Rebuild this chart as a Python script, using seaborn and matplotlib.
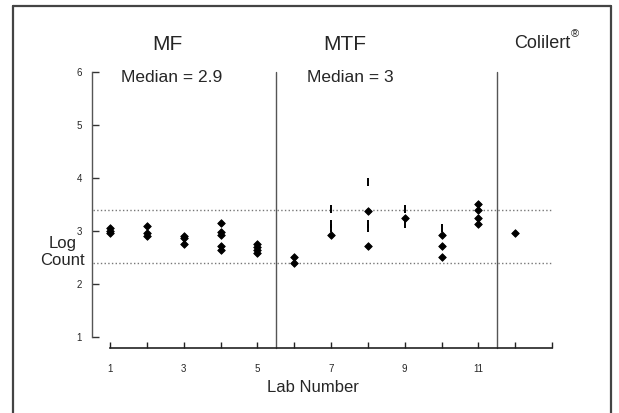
import seaborn as sns
import pandas as pd
import numpy as np
import matplotlib.pyplot as plt
from matplotlib.lines import Line2D

# -----------------------------
# DATA
# -----------------------------
labs = [1, 2, 3, 4, 5, 6, 7, 8, 9, 10, 11, 12]
lab_counts = [
    [3.05, 3.00, 2.97],
    [3.09, 2.97, 2.91],
    [2.91, 2.86, 2.75],
    [3.16, 2.99, 2.92, 2.72, 2.64],
    [2.75, 2.70, 2.64, 2.59],
    [2.50, 2.40],
    [2.92],
    [3.38, 2.71],
    [3.25],
    [2.92, 2.71, 2.50],
    [3.50, 3.40, 3.24, 3.13],
    [2.96],
]
# short vertical dashes on the MTF labs
dash_labs = [7, 7, 7, 8, 8, 8, 9, 9, 10]
dash_counts = [3.42, 3.13, 3.05, 3.92, 3.13, 3.05, 3.42, 3.14, 3.06]

method_names = ["MF", "MTF", "Colilert"]
medians = ["Median = 2.9", "Median = 3"]
limits = [3.4, 2.4]
separators = [5.5, 11.5]

rows = [(lab, v) for lab, vals in zip(labs, lab_counts) for v in vals]
df = pd.DataFrame(rows, columns=["lab", "log_count"])
dashes = pd.DataFrame({"lab": dash_labs, "log_count": dash_counts})

# -----------------------------
# PLOT
# -----------------------------
sns.set_style("white")
plt.rcParams["font.family"] = ["Liberation Sans", "DejaVu Sans"]

fig = plt.figure(figsize=(6.19, 4.13), dpi=100)
ax = fig.add_axes([0.148, 0.1584, 0.7438, 0.6673])

sns.scatterplot(data=df, x="lab", y="log_count", marker="D", s=15,
                color="black", edgecolor="black", linewidth=0.6, ax=ax,
                zorder=3)
sns.scatterplot(data=dashes, x="lab", y="log_count", marker="|", s=30,
                color="black", linewidth=1.4, ax=ax, zorder=3)

for y in limits:
    ax.plot([0.55, 13], [y, y], linestyle=":", color="#777777", lw=1)
for x in separators:
    ax.plot([x, x], [0.8, 6.0], color="#555555", lw=1, clip_on=False)

ax.set_xlim(0.5, 13)
ax.set_ylim(0.8, 6)

ax.spines["top"].set_visible(False)
ax.spines["right"].set_visible(False)
ax.spines["left"].set_bounds(1, 6)
ax.spines["bottom"].set_bounds(1, 13)
ax.spines["left"].set_color("#555555")
ax.spines["bottom"].set_color("#222222")
ax.spines["left"].set_linewidth(1)
ax.spines["bottom"].set_linewidth(1.2)

ax.set_yticks([1, 2, 3, 4, 5, 6])
ax.set_yticklabels(["1", "2", "3", "4", "5", "6"])
ax.set_xticks(range(1, 14))
ax.set_xticklabels([str(i) if i % 2 == 1 and i < 13 else "" for i in range(1, 14)])
ax.tick_params(axis="y", direction="in", length=5, width=1, pad=7,
               labelsize=7, color="#333333", left=True)
ax.tick_params(axis="x", direction="in", length=4, width=1, pad=12,
               labelsize=7, color="#222222", bottom=True)

ax.set_xlabel("")
ax.set_ylabel("")
ax.text(6.5, 0.04, "Lab Number", ha="center", va="center", fontsize=12)
ax.text(-0.28, 2.6, "Log\nCount", ha="center", va="center", fontsize=12,
        linespacing=1.2)

ax.text(2.55, 6.51, method_names[0], ha="center", va="center", fontsize=15)
ax.text(7.36, 6.51, method_names[1], ha="center", va="center", fontsize=15)
ax.text(12.74, 6.54, method_names[2], ha="center", va="center", fontsize=13)
ax.text(13.5, 6.72, "®", ha="left", va="center", fontsize=8)
ax.text(2.68, 5.9, medians[0], ha="center", va="center", fontsize=12.5)
ax.text(7.52, 5.9, medians[1], ha="center", va="center", fontsize=12.5)

# outer frame
for xs, ys in [([0.021, 0.021], [0, 0.9855]),
               ([0.021, 0.987], [0.9855, 0.9855]),
               ([0.987, 0.987], [0.9855, 0])]:
    fig.add_artist(Line2D(xs, ys, transform=fig.transFigure,
                          color="#444444", lw=1.6))

fig.savefig("out.png", dpi=100)
